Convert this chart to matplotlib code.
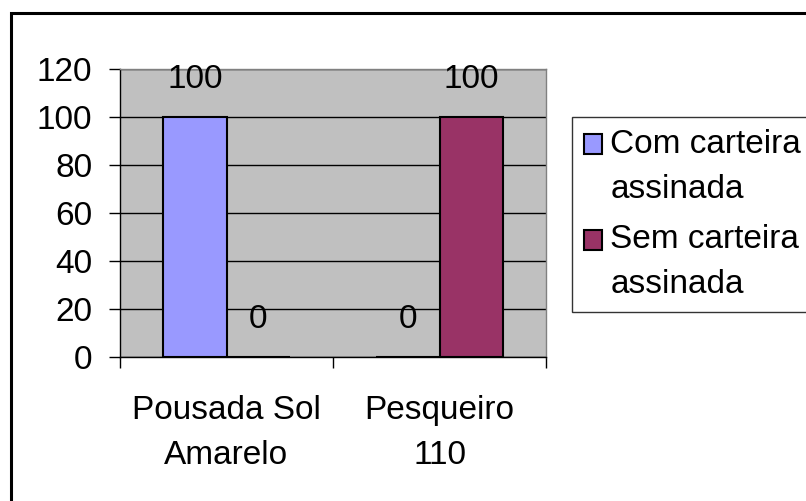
import matplotlib
matplotlib.use("Agg")
import matplotlib.pyplot as plt
from matplotlib.patches import Rectangle
from matplotlib.legend_handler import HandlerPatch
import matplotlib.transforms as mtransforms
import numpy as np

categories = ["Pousada Sol\nAmarelo", "Pesqueiro\n110"]
series_names = ["Com carteira\nassinada", "Sem carteira\nassinada"]
com_carteira = [100, 0]
sem_carteira = [0, 100]
colors = ["#9999FF", "#993366"]
yticks = [0, 20, 40, 60, 80, 100, 120]

plt.rcParams['font.family'] = ['Liberation Sans', 'DejaVu Sans']
FS = 24
LS = 1.6

W, H = 806, 501
fig = plt.figure(figsize=(W / 100, H / 100), dpi=100)

# outer chart frame (extends beyond right/bottom edge)
fig.patches.append(Rectangle((11 / W, -0.1), 1.2, (1 - 13 / H) + 0.1,
                             transform=fig.transFigure, fill=False,
                             edgecolor='black', linewidth=2.2, zorder=0))

left, right, top, bottom = 120, 546, 68.7, 357
ax = fig.add_axes([left / W, 1 - bottom / H, (right - left) / W, (bottom - top) / H])
ax.set_facecolor("#C0C0C0")

x = np.arange(len(categories)) + 0.5
bw = 0.296
b1 = ax.bar(x - bw / 2, com_carteira, bw, color=colors[0], edgecolor='black',
            linewidth=1.5, label=series_names[0], zorder=3)
b2 = ax.bar(x + bw / 2, sem_carteira, bw, color=colors[1], edgecolor='black',
            linewidth=1.5, label=series_names[1], zorder=3)

for bars in (b1, b2):
    for r in bars:
        v = r.get_height()
        ax.annotate(f"{v:g}", (r.get_x() + r.get_width() / 2, v),
                    xytext=(0, 27), textcoords='offset points',
                    ha='center', va='center', fontsize=FS, zorder=5,
                    annotation_clip=False)

ax.set_ylim(0, 120)
ax.set_xlim(0, 2)
ax.set_yticks(yticks)
ax.set_yticklabels([str(t) for t in yticks], fontsize=FS)
ax.yaxis.grid(True, color='black', linewidth=1.0, zorder=1)
ax.set_axisbelow(True)
ax.tick_params(axis='y', direction='out', length=8, width=1, pad=12)
ax.set_xticks([0, 1, 2])
ax.set_xticklabels([])
ax.tick_params(axis='x', direction='out', length=8, width=1)

for sp in ('top', 'right'):
    ax.spines[sp].set_color('#808080')
    ax.spines[sp].set_linewidth(1.0)
for sp in ('left', 'bottom'):
    ax.spines[sp].set_color('black')
    ax.spines[sp].set_linewidth(1.0)

trans = mtransforms.blended_transform_factory(ax.transData, fig.transFigure)
for xi, c in zip(x, categories):
    ax.text(xi, 1 - 433 / H, c, transform=trans, ha='center', va='center',
            fontsize=FS, linespacing=LS)


def top_square(legend, orig_handle, xdescent, ydescent, width, height, fontsize):
    shift = 16.5
    return Rectangle((-xdescent, -ydescent + shift), width, height)


h1, h2 = b1.patches[0], b2.patches[0]
hm = {h1: HandlerPatch(patch_func=top_square), h2: HandlerPatch(patch_func=top_square)}
leg = ax.legend(handles=[h1, h2], labels=series_names, loc='upper left',
                bbox_to_anchor=(572 / W, 1 - 117 / H),
                bbox_transform=fig.transFigure, fontsize=FS,
                frameon=True, fancybox=False, edgecolor='black',
                handlelength=0.55, handleheight=0.55, handletextpad=0.25,
                borderpad=0.35, labelspacing=0.57, borderaxespad=0,
                handler_map=hm)
leg.get_frame().set_linewidth(1.0)
for t in leg.get_texts():
    t.set_linespacing(LS)

fig.savefig("out.png", dpi=100)
